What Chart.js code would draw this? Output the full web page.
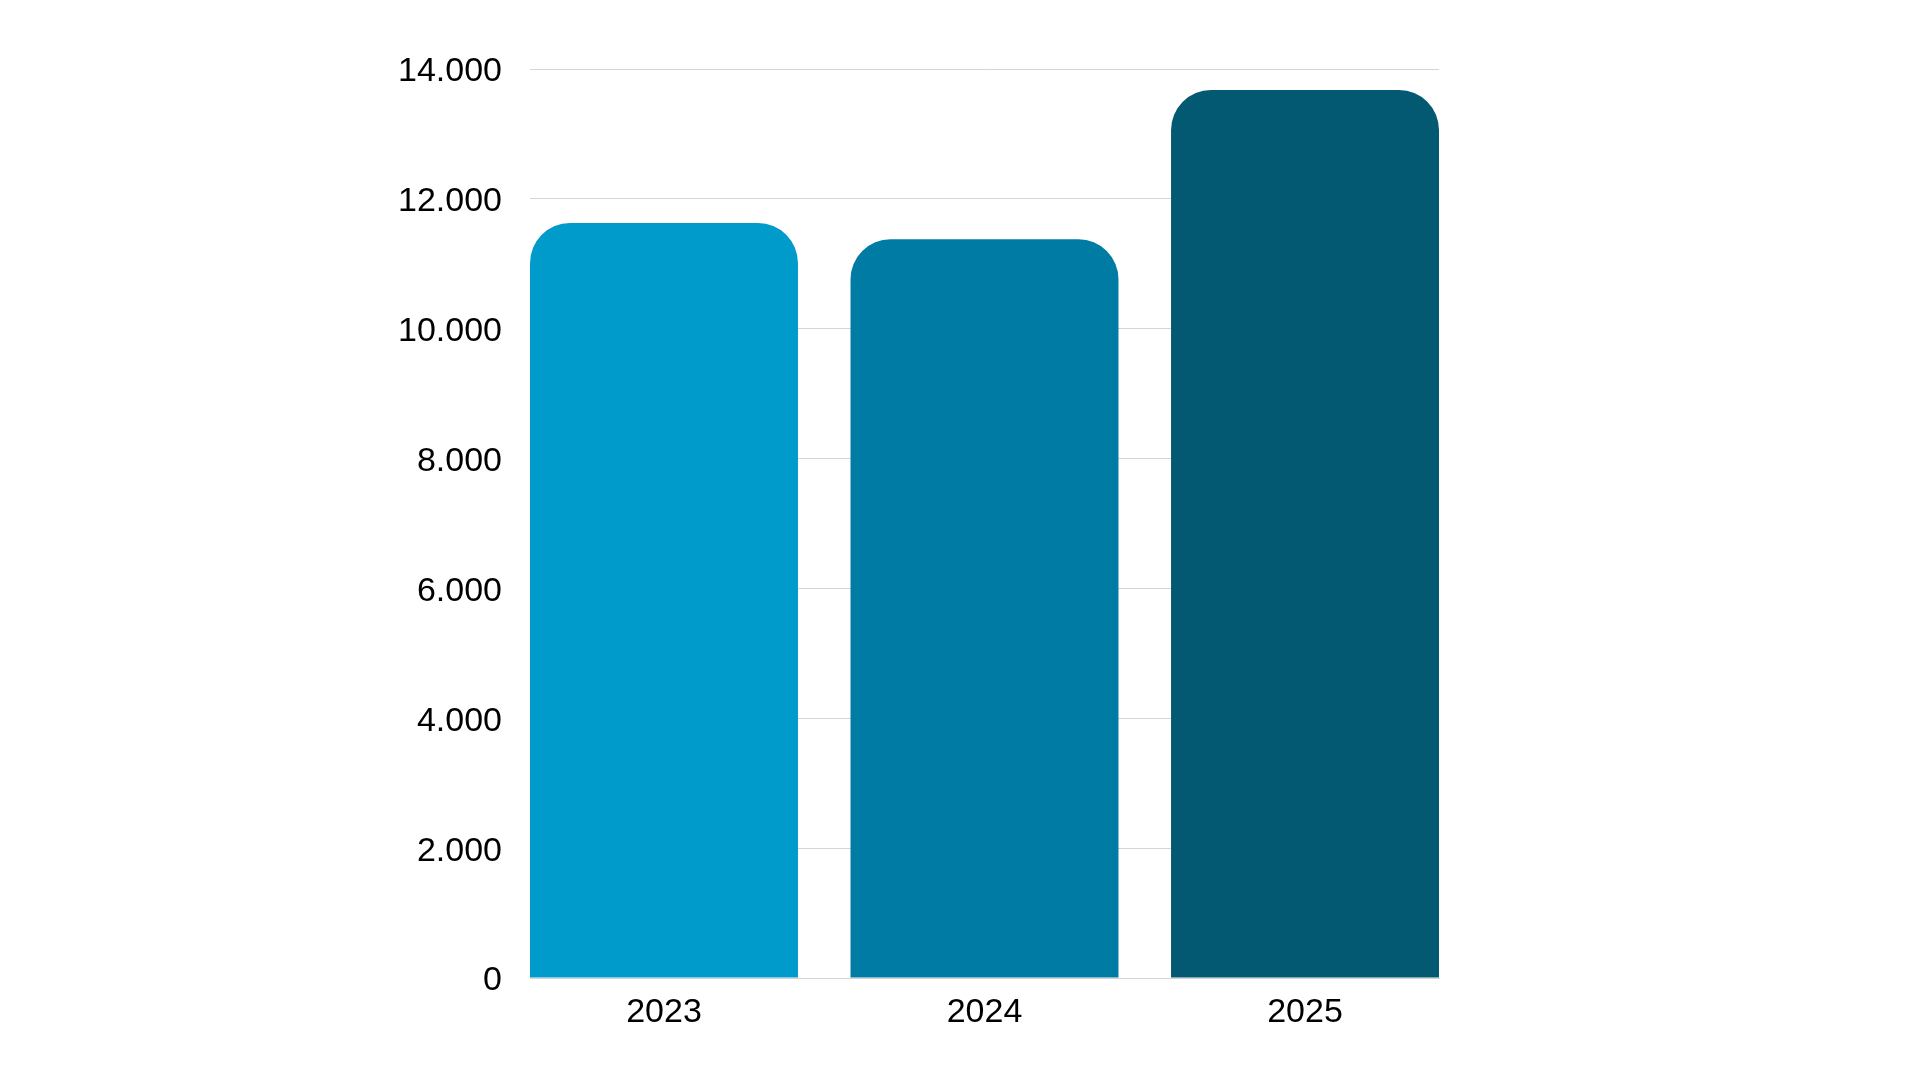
<!DOCTYPE html>
<html>
<head>
<meta charset="utf-8">
<style>
  html, body { margin: 0; padding: 0; background: #ffffff; }
  #wrap { width: 1920px; height: 1080px; }
</style>
<script src="https://cdn.jsdelivr.net/npm/chart.js@4/dist/chart.umd.min.js"></script>
</head>
<body>
<div id="wrap"><canvas id="c" width="1920" height="1080"></canvas></div>
<script>
const categories = ['2023', '2024', '2025'];
const values = [11628, 11377, 13676];
const barColors = ['#009ACB', '#007BA3', '#035972'];
const yTicks = [0, 2000, 4000, 6000, 8000, 10000, 12000, 14000];

const barPct = 0.836;
const half = barPct / 2;

function fmt(v) {
  return String(v).replace(/\B(?=(\d{3})+(?!\d))/g, '.');
}

new Chart(document.getElementById('c'), {
  type: 'bar',
  data: {
    datasets: [{
      data: values.map((v, i) => ({ x: i, y: v })),
      backgroundColor: barColors,
      borderWidth: 0,
      borderRadius: { topLeft: 40, topRight: 40, bottomLeft: 0, bottomRight: 0 },
      borderSkipped: 'bottom',
      barPercentage: barPct,
      categoryPercentage: 1
    }]
  },
  options: {
    responsive: false,
    animation: false,
    devicePixelRatio: 1,
    layout: { padding: { top: 69, right: 481, bottom: 0, left: 0 } },
    plugins: { legend: { display: false }, tooltip: { enabled: false } },
    scales: {
      x: {
        type: 'linear',
        min: -half,
        max: categories.length - 1 + half,
        offset: false,
        grid: { display: false, offset: false, drawTicks: false },
        border: { display: true, color: '#d4d4d4', width: 1 },
        afterBuildTicks: (s) => { s.ticks = categories.map((c, i) => ({ value: i })); },
        afterFit: (s) => { s.height = 102; },
        ticks: {
          padding: 14,
          color: '#000000',
          font: { family: '"Liberation Sans", Arial, sans-serif', size: 34 },
          callback: (v) => categories[v],
          maxRotation: 0,
          autoSkip: false
        }
      },
      y: {
        min: 0,
        max: 14000,
        afterBuildTicks: (s) => { s.ticks = yTicks.map(v => ({ value: v })); },
        afterFit: (s) => { s.width = 530; },
        grid: { color: '#d4d4d4', lineWidth: 1, drawTicks: false },
        border: { display: false },
        ticks: {
          padding: 28,
          labelOffset: 3,
          color: '#000000',
          font: { family: '"Liberation Sans", Arial, sans-serif', size: 34 },
          callback: (v) => fmt(v)
        }
      }
    }
  }
});
</script>
</body>
</html>
